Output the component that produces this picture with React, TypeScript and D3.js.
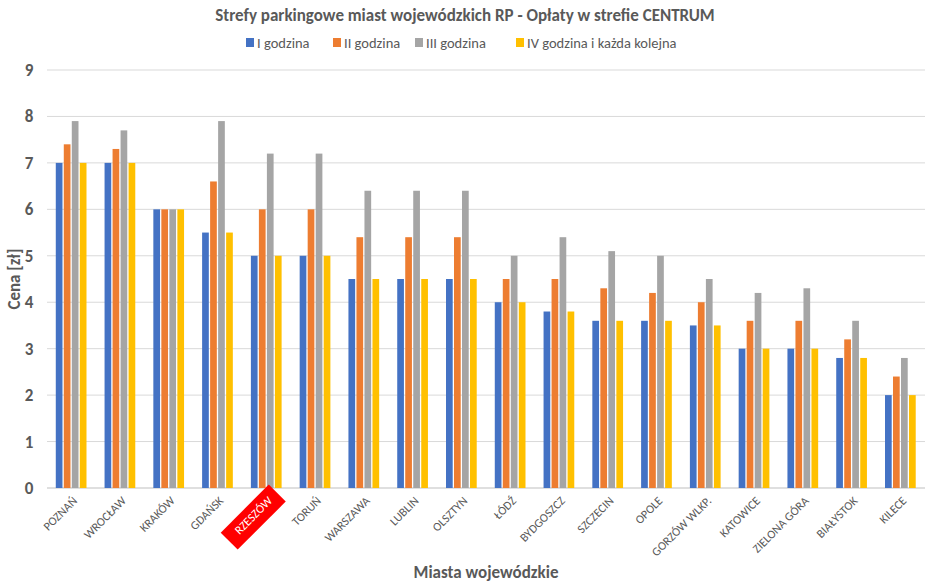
import React from "react";
import * as d3 from "d3";

const cities = [
  "POZNAŃ", "WROCŁAW", "KRAKÓW", "GDAŃSK", "RZESZÓW", "TORUŃ", "WARSZAWA", "LUBLIN", "OLSZTYN",
  "ŁÓDŹ", "BYDGOSZCZ", "SZCZECIN", "OPOLE", "GORZÓW WLKP.", "KATOWICE", "ZIELONA GÓRA", "BIAŁYSTOK", "KILECE",
];
const series = ["I godzina", "II godzina", "III godzina", "IV godzina i każda kolejna"];
const colors = ["#4472c4", "#ed7d31", "#a5a5a5", "#ffc000"];

const hour1 = [7, 7, 6, 5.5, 5, 5, 4.5, 4.5, 4.5, 4, 3.8, 3.6, 3.6, 3.5, 3, 3, 2.8, 2];
const hour2 = [7.4, 7.3, 6, 6.6, 6, 6, 5.4, 5.4, 5.4, 4.5, 4.5, 4.3, 4.2, 4, 3.6, 3.6, 3.2, 2.4];
const hour3 = [7.9, 7.7, 6, 7.9, 7.2, 7.2, 6.4, 6.4, 6.4, 5, 5.4, 5.1, 5, 4.5, 4.2, 4.3, 3.6, 2.8];
const hour4 = [7, 7, 6, 5.5, 5, 5, 4.5, 4.5, 4.5, 4, 3.8, 3.6, 3.6, 3.5, 3, 3, 2.8, 2];
const values = [hour1, hour2, hour3, hour4];
const yTicks = [0, 1, 2, 3, 4, 5, 6, 7, 8, 9];
const highlight = "RZESZÓW";

const W = 929;
const H = 583;
const font = "Calibri, Carlito, 'Open Sans', sans-serif";

export default function App() {
  const x = d3.scaleBand<string>().domain(cities).range([47, 925]);
  const bw = x.bandwidth();
  const xs = d3.scaleBand<string>().domain(series).range([bw * 0.18, bw * 0.82]).paddingInner(0.1);
  const y = d3.scaleLinear().domain([0, 9]).range([488, 70]);

  const legendX = [246, 333, 415, 516];

  return (
    <svg width={W} height={H} style={{ position: "absolute", left: 0, top: 0, background: "#fff" }}>
      <text x={465} y={21} textAnchor="middle" fontFamily={font} fontSize={17} fontWeight="bold" fill="#595959">
        Strefy parkingowe miast wojewódzkich RP - Opłaty w strefie CENTRUM
      </text>
      {series.map((s, i) => (
        <g key={s} transform={`translate(${legendX[i]},38)`}>
          <rect width={8} height={9} fill={colors[i]} />
          <text x={11} y={9.5} fontFamily={font} fontSize={14.5} fill="#595959">{s}</text>
        </g>
      ))}

      {yTicks.map((t) => (
        <g key={t}>
          <line x1={47} x2={925} y1={y(t)} y2={y(t)} stroke={t === 0 ? "#bfbfbf" : "#d9d9d9"} strokeWidth={1} />
          <text x={29} y={y(t) + 6} textAnchor="middle" fontFamily={font} fontSize={17} fontWeight="bold" fill="#595959">
            {t}
          </text>
        </g>
      ))}

      {cities.map((c, ci) => (
        <g key={c} transform={`translate(${x(c)},0)`}>
          {series.map((s, si) => (
            <rect
              key={s}
              x={xs(s)}
              y={y(values[si][ci])}
              width={xs.bandwidth() - 0.5}
              height={y(0) - y(values[si][ci])}
              fill={colors[si]}
            />
          ))}
        </g>
      ))}

      {cities.map((c) => {
        const cx = (x(c) as number) + bw / 2 + 3;
        const isH = c === highlight;
        return (
          <g key={c} transform={`translate(${cx},498) rotate(-45)`}>
            {isH && <rect x={-59} y={-10} width={68} height={24} fill="#ff0000" />}
            <text y={5} textAnchor="end" fontFamily={font} fontSize={12} fill={isH ? "#fff" : "#595959"}>
              {c}
            </text>
          </g>
        );
      })}

      <text transform="translate(20,279) rotate(-90)" textAnchor="middle" fontFamily={font} fontSize={17} fontWeight="bold" fill="#595959">
        Cena [zł]
      </text>
      <text x={486} y={578} textAnchor="middle" fontFamily={font} fontSize={17} fontWeight="bold" fill="#595959">
        Miasta wojewódzkie
      </text>
    </svg>
  );
}
